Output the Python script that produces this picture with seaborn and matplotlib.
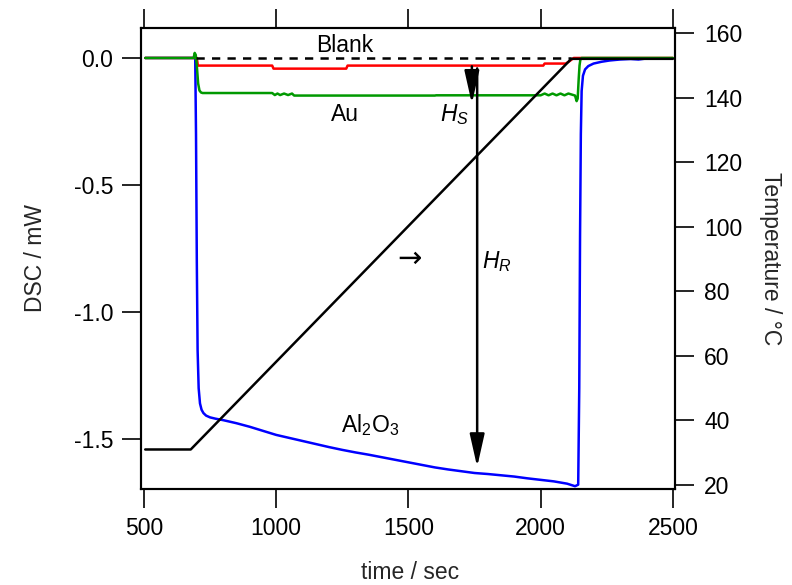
import numpy as np
import pandas as pd
import matplotlib
matplotlib.use("Agg")
import matplotlib.pyplot as plt
import seaborn as sns

# ---------------- data ----------------
al_t = [505, 694, 697, 700, 703, 707, 712, 718, 725, 735, 750, 770, 800, 850, 900, 950,
        1000, 1050, 1100, 1150, 1200, 1250, 1300, 1350, 1400, 1450, 1500, 1550,
        1600, 1650, 1700, 1750, 1800, 1850, 1900, 1950, 2000, 2050, 2100, 2130,
        2142, 2146, 2149, 2152, 2155, 2160, 2168, 2180, 2200, 2230, 2260, 2300,
        2340, 2370, 2400]
al_v = [0.0, 0.0, -0.3, -0.8, -1.15, -1.3, -1.36, -1.385, -1.398, -1.408, -1.415, -1.42,
        -1.426, -1.438, -1.452, -1.468, -1.484, -1.496, -1.508, -1.52, -1.532,
        -1.543, -1.553, -1.562, -1.572, -1.582, -1.592, -1.602, -1.612, -1.62,
        -1.627, -1.634, -1.638, -1.643, -1.648, -1.655, -1.661, -1.667, -1.676,
        -1.686, -1.68, -1.3, -0.7, -0.3, -0.13, -0.07, -0.045, -0.032, -0.022,
        -0.015, -0.01, -0.006, -0.004, -0.006, -0.002]

au_t = [505, 688, 692, 696, 700, 705, 710, 716, 722, 985, 995, 1005, 1015, 1030,
        1045, 1060, 1068, 1600, 1605, 2000, 2015, 2030, 2045, 2060, 2075, 2090,
        2105, 2130, 2136, 2140, 2144, 2147, 2150, 2155, 2500]
au_v = [0.0, 0.0, 0.02, 0.012, -0.03, -0.1, -0.128, -0.136, -0.138, -0.138,
        -0.146, -0.14, -0.146, -0.14, -0.146, -0.14, -0.148, -0.148, -0.147,
        -0.147, -0.14, -0.147, -0.14, -0.147, -0.14, -0.147, -0.14, -0.148,
        -0.17, -0.16, -0.08, -0.03, -0.008, 0.0, 0.0]

blank_t = [505, 700, 704, 985, 990, 1265, 1270, 2010, 2015, 2095, 2110, 2125, 2500]
blank_v = [0.0, 0.0, -0.03, -0.03, -0.042, -0.042, -0.03, -0.03, -0.022, -0.022,
           -0.012, 0.0, 0.0]

ref_t = [697, 2114]
ref_v = [0.0, 0.0]

temp_t = [505, 677, 2116, 2500]
temp_v = [31.0, 31.0, 152.0, 152.0]

x_ticks = [500, 1000, 1500, 2000, 2500]
dsc_ticks = [0.0, -0.5, -1.0, -1.5]
dsc_labels = ["0.0", "-0.5", "-1.0", "-1.5"]
temp_ticks = [20, 40, 60, 80, 100, 120, 140, 160]

# ---------------- style ----------------
sns.set_theme(style="ticks")
plt.rcParams["font.family"] = ["Liberation Sans", "DejaVu Sans"]
plt.rcParams["mathtext.fontset"] = "custom"
plt.rcParams["mathtext.rm"] = "Liberation Sans"
plt.rcParams["mathtext.it"] = "Liberation Sans:italic"
plt.rcParams["axes.unicode_minus"] = False
FS = 16.5
LW = 1.8

fig = plt.figure(figsize=(7.92, 5.85), dpi=100)
ax = fig.add_axes([141 / 792, 1 - 489 / 585, 534 / 792, 461 / 585])

df_al = pd.DataFrame({"t": al_t, "v": al_v})
df_au = pd.DataFrame({"t": au_t, "v": au_v})
df_bl = pd.DataFrame({"t": blank_t, "v": blank_v})
df_ref = pd.DataFrame({"t": ref_t, "v": ref_v})
df_T = pd.DataFrame({"t": temp_t, "T": temp_v})

sns.lineplot(data=df_al, x="t", y="v", ax=ax, color="#0000ff", lw=LW,
             estimator=None, sort=False)
sns.lineplot(data=df_bl, x="t", y="v", ax=ax, color="#ff0000", lw=LW,
             estimator=None, sort=False)
sns.lineplot(data=df_au, x="t", y="v", ax=ax, color="#009900", lw=LW,
             estimator=None, sort=False)
sns.lineplot(data=df_ref, x="t", y="v", ax=ax, color="black", lw=LW,
             estimator=None, sort=False, linestyle=(0, (3.3, 2.9)))

ax.set_xlim(489, 2508)
ax.set_ylim(-1.697, 0.118)
ax.set_xticks(x_ticks)
ax.set_xticklabels([str(v) for v in x_ticks])
ax.set_yticks(dsc_ticks)
ax.set_yticklabels(dsc_labels)
ax.tick_params(axis="both", direction="out", length=14, width=1.2,
               labelsize=FS, color="black", labelcolor="black", pad=6)
ax.tick_params(axis="x", top=True, labeltop=False)
for s in ax.spines.values():
    s.set_linewidth(1.5)
    s.set_color("black")
    s.set_visible(True)

ax.set_xlabel("time / sec", fontsize=FS, va="center")
ax.xaxis.set_label_coords(0.504, -0.182)
ax.set_ylabel("DSC / mW", fontsize=FS, va="center")
ax.yaxis.set_label_coords(-0.197, 0.5)

# temperature axis
ax2 = ax.twinx()
sns.lineplot(data=df_T, x="t", y="T", ax=ax2, color="black", lw=LW,
             estimator=None, sort=False)
ax2.set_ylim(18.76, 161.55)
ax2.set_yticks(temp_ticks)
ax2.set_yticklabels([str(v) for v in temp_ticks])
ax2.tick_params(axis="y", direction="out", length=14, width=1.2,
                labelsize=FS, color="black", labelcolor="black", pad=7)
for s in ax2.spines.values():
    s.set_linewidth(1.5)
    s.set_color("black")
ax2.set_ylabel("Temperature / °C", fontsize=FS, rotation=270, va="center")
ax2.yaxis.set_label_coords(1.178, 0.5)
ax2.set_xlabel("")

# arrows (drawn in DSC data coordinates)
arrow_kw = dict(arrowstyle="-|>,head_length=2.0,head_width=0.45",
                color="black", lw=LW, shrinkA=0, shrinkB=0, mutation_scale=10)
ax2.annotate("", xy=(1740, -0.18), xytext=(1740, -0.033),
             xycoords=ax.transData, textcoords=ax.transData,
             arrowprops=arrow_kw)
ax2.annotate("", xy=(1760, -1.61), xytext=(1760, -0.041),
             xycoords=ax.transData, textcoords=ax.transData,
             arrowprops=arrow_kw)

# annotations
txt_kw = dict(fontsize=FS, ha="center", va="center", color="black",
              transform=ax.transData)
ax2.text(1260, 0.051, "Blank", **txt_kw)
ax2.text(1260, -0.224, "Au", **txt_kw)
ax2.text(1676, -0.224, r"$H_S$", **txt_kw)
ax2.text(1835, -0.803, r"$H_R$", **txt_kw)
ax2.text(1506, -0.79, "→", fontsize=21, ha="center", va="center",
         color="black", transform=ax.transData,
         family=["DejaVu Sans"])
ax2.text(1354, -1.445, r"Al$_2$O$_3$", **txt_kw)

fig.savefig("out.png", dpi=100, facecolor="white")
